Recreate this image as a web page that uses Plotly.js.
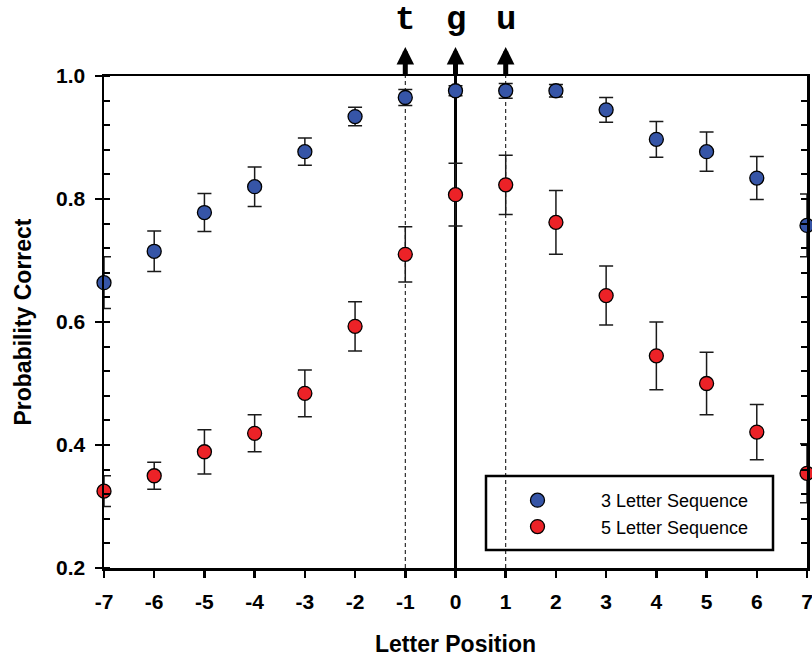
<!DOCTYPE html>
<html>
<head>
<meta charset="utf-8">
<script src="https://cdn.plot.ly/plotly-3.0.1.min.js"></script>
<style>html,body{margin:0;padding:0;background:#fff;}#chart{width:812px;height:657px;}</style>
</head>
<body>
<div id="chart"></div>
<script>
// Data
var letterPositions = [-7, -6, -5, -4, -3, -2, -1, 0, 1, 2, 3, 4, 5, 6, 7];
var threeLetter = [0.664, 0.715, 0.778, 0.820, 0.877, 0.934, 0.965, 0.976, 0.976, 0.976, 0.945, 0.897, 0.877, 0.834, 0.757];
var threeLetterErr = [0.042, 0.033, 0.031, 0.032, 0.022, 0.015, 0.013, 0.008, 0.012, 0.010, 0.020, 0.029, 0.032, 0.035, 0.051];
var fiveLetter = [0.325, 0.350, 0.389, 0.419, 0.484, 0.593, 0.710, 0.807, 0.823, 0.762, 0.643, 0.545, 0.500, 0.421, 0.354];
var fiveLetterErr = [0.025, 0.022, 0.036, 0.030, 0.038, 0.040, 0.045, 0.051, 0.048, 0.052, 0.048, 0.055, 0.051, 0.045, 0.048];
var seriesNames = ['3 Letter Sequence', '5 Letter Sequence'];
var markedPositions = [-1, 0, 1];
var markedLetters = ['t', 'g', 'u'];
var xTicks = [-7, -6, -5, -4, -3, -2, -1, 0, 1, 2, 3, 4, 5, 6, 7];

var FONT = 'Liberation Sans, Arial, Helvetica, sans-serif';

function errStyle(arr) {
  return {type: 'data', array: arr, visible: true, color: '#1a1a1a', thickness: 1.5, width: 7};
}

var traces = [
  {
    x: letterPositions, y: threeLetter, name: seriesNames[0], type: 'scatter', mode: 'markers',
    cliponaxis: false,
    error_y: errStyle(threeLetterErr),
    marker: {size: 14, color: '#3655a7', line: {color: '#000', width: 1.3}}
  },
  {
    x: letterPositions, y: fiveLetter, name: seriesNames[1], type: 'scatter', mode: 'markers',
    cliponaxis: false,
    error_y: errStyle(fiveLetterErr),
    marker: {size: 14, color: '#ec2227', line: {color: '#000', width: 1.3}}
  },
  {
    x: [null], y: [null], yaxis: 'y2', showlegend: false, hoverinfo: 'skip', mode: 'markers'
  }
];

var shapes = [];
markedPositions.forEach(function (p) {
  shapes.push({
    type: 'line', xref: 'x', yref: 'paper', x0: p, x1: p, y0: 0, y1: 1, layer: 'below',
    line: p === 0 ? {color: '#000', width: 3} : {color: '#000', width: 1, dash: '4px,3px'}
  });
});
// legend frame
shapes.push({
  type: 'rect', xref: 'paper', yref: 'paper',
  x0: (486 - 104) / 703, x1: (773 - 104) / 703, y0: (568 - 550) / 492, y1: (568 - 476) / 492,
  line: {color: '#000', width: 2.5}, fillcolor: 'rgba(255,255,255,0)'
});

var annotations = [];
markedPositions.forEach(function (p, i) {
  annotations.push({
    x: p, xref: 'x', y: (568 - 47) / 492, yref: 'paper', text: '', showarrow: true,
    ax: 0, ay: 29, axref: 'pixel', ayref: 'pixel', arrowhead: 2, arrowsize: 0.7, arrowwidth: 5,
    arrowcolor: '#000', standoff: 0, startstandoff: 0
  });
  annotations.push({
    x: p, xref: 'x', y: (568 - 20) / 492, yref: 'paper', text: '<b>' + markedLetters[i] + '</b>',
    showarrow: false, yanchor: 'middle', xanchor: 'center',
    font: {family: 'Liberation Mono, Courier New, monospace', size: 34, color: '#000'}
  });
});

var layout = {
  width: 812, height: 657,
  margin: {l: 104, r: 5, t: 76, b: 89},
  paper_bgcolor: '#fff', plot_bgcolor: '#fff',
  showlegend: true,
  legend: {
    x: (474 - 104) / 703, xanchor: 'left', y: (568 - 482) / 492, yanchor: 'top',
    bgcolor: 'rgba(0,0,0,0)', borderwidth: 0, itemwidth: 117,
    font: {family: FONT, size: 18, color: '#000'}, tracegroupgap: 0
  },
  xaxis: {
    range: [-7, 7], tickvals: xTicks, ticktext: xTicks.map(String),
    showgrid: false, zeroline: false,
    showline: true, linecolor: '#000', linewidth: 2.5, mirror: true,
    ticks: 'outside', ticklen: 7, tickwidth: 2.5, tickcolor: '#000',
    ticklabelstandoff: 6, ticklabeloverflow: 'allow',
    tickfont: {family: FONT, size: 21, color: '#000', weight: 'bold'},
    title: {text: 'Letter Position', font: {family: FONT, size: 23, color: '#000', weight: 'bold'}, standoff: 24}
  },
  yaxis: {
    range: [0.2, 1.0], dtick: 0.2, tick0: 0.2, tickformat: '.1f',
    showgrid: false, zeroline: false,
    showline: true, linecolor: '#000', linewidth: 2.5, mirror: true,
    ticks: 'outside', ticklen: 7, tickwidth: 2.5, tickcolor: '#000',
    minor: {dtick: 0.04, tick0: 0.2, ticks: 'inside', ticklen: 6, tickwidth: 2, tickcolor: '#000', showgrid: false},
    ticklabelstandoff: 5,
    tickfont: {family: FONT, size: 21, color: '#000', weight: 'bold'},
    title: {text: 'Probability Correct', font: {family: FONT, size: 23, color: '#000', weight: 'bold'}, standoff: 18}
  },
  yaxis2: {
    overlaying: 'y', side: 'right', range: [0.2, 1.0], dtick: 0.04, tick0: 0.2,
    showgrid: false, zeroline: false, showline: false, showticklabels: false,
    ticks: 'inside', ticklen: 6, tickwidth: 2, tickcolor: '#000'
  },
  shapes: shapes,
  annotations: annotations
};

Plotly.newPlot('chart', traces, layout, {displayModeBar: false, staticPlot: true});
</script>
</body>
</html>
